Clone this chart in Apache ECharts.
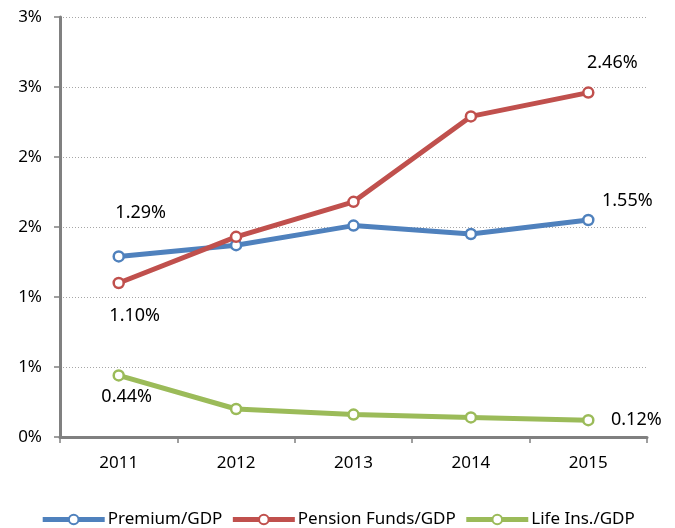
<!DOCTYPE html>
<html>
<head>
<meta charset="utf-8">
<script src="https://cdn.jsdelivr.net/npm/echarts@6/dist/echarts.min.js"></script>
<style>
  html, body { margin: 0; padding: 0; background: #fff; }
  #chart { width: 675px; height: 528px; }
</style>
</head>
<body>
<div id="chart"></div>
<script>
// years on the x axis
var years = ['2011', '2012', '2013', '2014', '2015'];
// ratios in percent
var premium = [1.29, 1.37, 1.51, 1.45, 1.55];
var pension = [1.10, 1.43, 1.68, 2.29, 2.46];
var lifeIns = [0.44, 0.20, 0.16, 0.14, 0.12];
var seriesNames = ['Premium/GDP', 'Pension Funds/GDP', 'Life Ins./GDP'];
var colors = ['#4F81BD', '#C0504D', '#9BBB59'];

var FONT = 'Noto Sans';

// only first and last points carry a label, offset like the original
function withLabels(values, firstOff, lastOff) {
  return values.map(function (v, i) {
    var item = { value: v };
    if (i === 0 || i === values.length - 1) {
      item.label = {
        show: true,
        position: 'inside',
        offset: i === 0 ? firstOff : lastOff,
        formatter: v.toFixed(2) + '%',
        color: '#000',
        fontFamily: FONT,
        fontSize: 18
      };
    }
    return item;
  });
}

function lineSeries(name, color, data) {
  return {
    name: name,
    type: 'line',
    data: data,
    symbol: 'circle',
    symbolSize: 10,
    lineStyle: { width: 5, color: color },
    itemStyle: { color: '#fff', borderColor: color, borderWidth: 2.5 },
    label: { show: false },
    z: 3
  };
}

var myChart = echarts.init(document.getElementById('chart'));
var option = {
  animation: false,
  color: colors,
  grid: { left: 60, right: 28, top: 17, bottom: 91 },
  legend: {
    top: 506,
    left: 'center',
    itemWidth: 62,
    itemHeight: 12,
    itemGap: 8,
    lineStyle: { width: 5 },
    textStyle: { fontFamily: FONT, fontSize: 17, color: '#000', padding: [0, 0, 0, -2] },
    data: seriesNames
  },
  xAxis: {
    type: 'category',
    data: years,
    boundaryGap: true,
    axisLine: { lineStyle: { color: '#808080', width: 3 } },
    axisTick: { show: true, length: 6, lineStyle: { color: '#808080', width: 1.5 } },
    axisLabel: { color: '#000', fontFamily: FONT, fontSize: 17, margin: 18 }
  },
  yAxis: {
    type: 'value',
    min: 0,
    max: 3,
    interval: 0.5,
    axisLine: { show: true, lineStyle: { color: '#808080', width: 3 } },
    axisTick: { show: true, length: 6, lineStyle: { color: '#808080', width: 1.5 } },
    splitLine: { lineStyle: { color: '#A6A6A6', type: [1, 2], width: 1 } },
    axisLabel: {
      color: '#000', fontFamily: FONT, fontSize: 17, margin: 18,
      formatter: function (v) { return Math.round(v) + '%'; }
    }
  },
  series: [
    lineSeries(seriesNames[0], colors[0], withLabels(premium, [22, -44], [39, -19])),
    lineSeries(seriesNames[1], colors[1], withLabels(pension, [16, 33], [24, -30])),
    lineSeries(seriesNames[2], colors[2], withLabels(lifeIns, [8, 21], [48, 0]))
  ]
};
myChart.setOption(option);
</script>
</body>
</html>
